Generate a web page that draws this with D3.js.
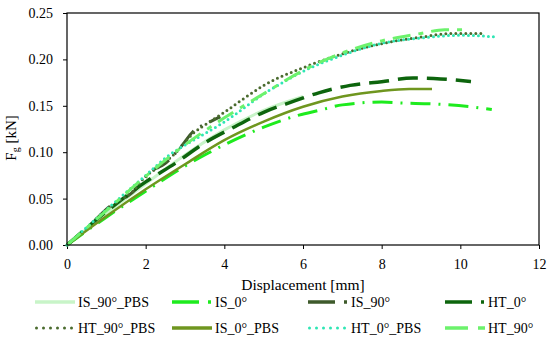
<!DOCTYPE html>
<html>
<head>
<meta charset="utf-8">
<script src="https://cdn.jsdelivr.net/npm/d3@7"></script>
<style>
  body { margin: 0; background: #fff; }
  svg { display: block; font-family: "Liberation Serif", "DejaVu Serif", serif; }
</style>
</head>
<body>
<svg></svg>
<script>
// series names, in legend order
const seriesNames = ["IS_90°_PBS", "IS_0°", "IS_90°", "HT_0°", "HT_90°_PBS", "IS_0°_PBS", "HT_0°_PBS", "HT_90°"];

// displacement [mm] / force [kN] per series
const is90pbsX = [0, 1, 2, 3, 4, 5, 6];
const is90pbsY = [0, 0.034, 0.066, 0.097, 0.124, 0.145, 0.160];

const is0X = [0, 1, 2, 3, 3.5, 4, 5, 5.9, 6.4, 7, 8, 8.5, 9.3, 10.25, 10.8];
const is0Y = [0, 0.030, 0.058, 0.085, 0.097, 0.108, 0.127, 0.140, 0.145, 0.151, 0.154, 0.153, 0.152, 0.149, 0.146];

const is90X = [0, 0.6, 1.1, 1.45, 1.8, 2.1, 2.5, 2.9, 3.2, 3.6, 3.9];
const is90Y = [0, 0.022, 0.042, 0.050, 0.062, 0.078, 0.088, 0.106, 0.122, 0.132, 0.138];

const ht0X = [0, 1, 2, 2.75, 3.5, 4.2, 5, 5.7, 6.4, 7.2, 8, 8.8, 9.5, 10.27];
const ht0Y = [0, 0.036, 0.068, 0.088, 0.110, 0.126, 0.143, 0.154, 0.164, 0.172, 0.176, 0.180, 0.179, 0.176];

const ht90pbsX = [0, 0.5, 1, 1.3, 1.6, 2, 2.4, 2.8, 3.2, 3.6, 4, 4.5, 5, 6, 7, 8, 9, 9.8, 10.6];
const ht90pbsY = [0, 0.018, 0.038, 0.047, 0.055, 0.074, 0.086, 0.101, 0.120, 0.132, 0.143, 0.158, 0.172, 0.191, 0.206, 0.217, 0.224, 0.228, 0.228];

const is0pbsX = [0, 1, 2, 3, 4, 5, 6, 7, 8, 8.7, 9.28];
const is0pbsY = [0, 0.031, 0.060, 0.087, 0.113, 0.133, 0.149, 0.160, 0.166, 0.168, 0.168];

const ht0pbsX = [0, 1, 2, 2.54, 3.3, 3.9, 5.16, 6, 7.1, 7.96, 9, 10, 10.96];
const ht0pbsY = [0, 0.038, 0.075, 0.095, 0.115, 0.130, 0.167, 0.187, 0.206, 0.217, 0.223, 0.226, 0.224];

const ht90X = [0, 1, 2, 3, 4, 5, 6, 7, 8, 9, 9.6, 10.2];
const ht90Y = [0, 0.037, 0.074, 0.108, 0.137, 0.163, 0.188, 0.207, 0.220, 0.228, 0.232, 0.232];

// axis ticks
const xTicks = [0, 2, 4, 6, 8, 10, 12];
const yTicks = [0, 0.05, 0.10, 0.15, 0.20, 0.25];

const width = 550;
const height = 341;
const margin = { top: 13, right: 11, bottom: 96, left: 67 };

// line look per series
const styles = [
  { color: "#c8f4c8", dash: null, w: 3, cap: "butt", legendDash: null },
  { color: "#1eeb1e", dash: "20,8,2,8", w: 3, cap: "butt", legendDash: "27,9,3,20" },
  { color: "#3e5a2b", dash: "20,8,2,8", w: 3, cap: "butt", legendDash: "27,9,3,20" },
  { color: "#0d650d", dash: "20,9", w: 3.5, cap: "butt", legendDash: "27,9,3,20" },
  { color: "#4a6b2e", dash: "0,5", w: 3, cap: "round", legendDash: "0,7" },
  { color: "#6f961f", dash: null, w: 2.5, cap: "butt", legendDash: null },
  { color: "#2ee6b4", dash: "0,5", w: 3, cap: "round", legendDash: "0,7" },
  { color: "#6cf26c", dash: "18,8,5,8", w: 3, cap: "butt", legendDash: "23,10,7,20" }
];

const xs = [is90pbsX, is0X, is90X, ht0X, ht90pbsX, is0pbsX, ht0pbsX, ht90X];
const ys = [is90pbsY, is0Y, is90Y, ht0Y, ht90pbsY, is0pbsY, ht0pbsY, ht90Y];

const series = seriesNames.map((name, i) => ({
  name: name,
  style: styles[i],
  values: xs[i].map((x, j) => ({ x: x, y: ys[i][j] }))
}));

let svg = d3.select("svg")
            .attr("width", width)
            .attr("height", height);

let x = d3.scaleLinear()
          .domain([0, 12])
          .range([margin.left, width - margin.right]);

let y = d3.scaleLinear()
          .domain([0, 0.25])
          .range([height - margin.bottom, margin.top]);

//axes
let xAxis = svg.append("g")
               .attr("transform", `translate(0,${height - margin.bottom})`)
               .call(d3.axisBottom(x).tickValues(xTicks).tickSize(4).tickPadding(10).tickFormat(d3.format("d")));

let yAxis = svg.append("g")
               .attr("transform", `translate(${margin.left},0)`)
               .call(d3.axisLeft(y).tickValues(yTicks).tickSize(4).tickPadding(10).tickFormat(d3.format(".2f")));

[xAxis, yAxis].forEach(a => {
  a.attr("font-family", null).attr("font-size", null);
  a.select(".domain").remove();
  a.selectAll("line").attr("stroke", "#000");
  a.selectAll("text")
   .attr("fill", "#000")
   .style("font-size", "14px");
});

//lines
let line = d3.line()
             .x(d => x(d.x))
             .y(d => y(d.y))
             .curve(d3.curveMonotoneX);

svg.append("g")
   .selectAll("path")
   .data(series)
   .enter()
   .append("path")
     .attr("d", d => line(d.values))
     .attr("fill", "none")
     .attr("stroke", d => d.style.color)
     .attr("stroke-width", d => d.style.w)
     .attr("stroke-dasharray", d => d.style.dash)
     .attr("stroke-linecap", d => d.style.cap);

//plot frame
svg.append("rect")
   .attr("x", x(0))
   .attr("y", y(0.25))
   .attr("width", x(12) - x(0))
   .attr("height", y(0) - y(0.25))
   .attr("fill", "none")
   .attr("stroke", "#000")
   .attr("stroke-width", 1.2);

//axis titles
svg.append("text")
   .attr("x", (x(0) + x(12)) / 2)
   .attr("y", 285)
   .attr("dy", "0.35em")
   .attr("text-anchor", "middle")
   .style("font-size", "15.5px")
   .text("Displacement [mm]");

let yTitle = svg.append("text")
                .attr("transform", "translate(16,138) rotate(-90)")
                .attr("text-anchor", "middle")
                .style("font-size", "15px");
yTitle.append("tspan").text("F");
yTitle.append("tspan").attr("dy", 3).style("font-size", "10px").text("g");
yTitle.append("tspan").attr("dy", -3).text(" [kN]");

//legend
const legendCols = [35, 172, 308, 445];
const legendRows = [302, 328];

let legend = svg.append("g")
                .selectAll("g")
                .data(series)
                .enter()
                .append("g")
                  .attr("transform", (d, i) => `translate(${legendCols[i % 4]},${legendRows[Math.floor(i / 4)]})`);

legend.append("line")
      .attr("x1", d => d.style.cap === "round" ? 1.5 : 0)
      .attr("x2", 40)
      .attr("stroke", d => d.style.color)
      .attr("stroke-width", d => d.style.cap === "round" ? 3 : 3.5)
      .attr("stroke-dasharray", d => d.style.legendDash)
      .attr("stroke-linecap", d => d.style.cap);

legend.append("text")
      .attr("x", 43)
      .attr("dy", "0.35em")
      .style("font-size", "14px")
      .text(d => d.name);
</script>
</body>
</html>
